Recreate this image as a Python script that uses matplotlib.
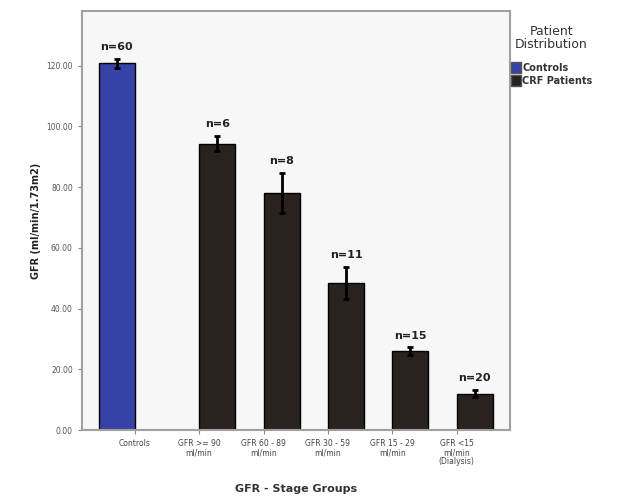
import numpy as np
import matplotlib.pyplot as plt

categories = ['Controls', 'GFR >= 90\nml/min', 'GFR 60 - 89\nml/min',
              'GFR 30 - 59\nml/min', 'GFR 15 - 29\nml/min', 'GFR <15\nml/min\n(Dialysis)']
groups = ['Controls', 'CRF Patients', 'CRF Patients', 'CRF Patients', 'CRF Patients', 'CRF Patients']
means = [120.8, 94.3, 78.2, 48.5, 26.0, 12.0]
err_lo = [1.5, 2.5, 6.6, 5.3, 1.3, 1.2]
err_hi = [1.5, 2.5, 6.6, 5.3, 1.3, 1.2]
n_labels = ['n=60', 'n=6', 'n=8', 'n=11', 'n=15', 'n=20']
colors = {'Controls': '#3742a6', 'CRF Patients': '#2a221f'}

fig = plt.figure(figsize=(6.2, 4.99), dpi=100)
ax = fig.add_axes([0.132, 0.138, 0.690, 0.840])
ax.set_facecolor('#f7f7f7')

off = 0.28
w = 0.56
x = np.arange(len(categories))
xpos = np.array([i - off if g == 'Controls' else i + off for i, g in enumerate(groups)])

for i in range(len(categories)):
    ax.bar(xpos[i], means[i], width=w, color=colors[groups[i]],
           edgecolor='black', linewidth=1.0, zorder=2)
    ax.errorbar(xpos[i], means[i], yerr=[[err_lo[i]], [err_hi[i]]], color='black',
                capsize=2.5, elinewidth=2, capthick=2, zorder=3)
    ax.text(xpos[i], means[i] + err_hi[i] + 2.2, n_labels[i], ha='center', va='bottom',
            fontsize=8, fontweight='bold', color='#222222')

ax.set_xlim(-0.82, 5.82)
ax.set_ylim(0, 138)
ax.set_yticks([0, 20, 40, 60, 80, 100, 120])
ax.set_yticklabels(['%.2f' % v for v in [0, 20, 40, 60, 80, 100, 120]], fontsize=5.5, color='#555555')
ax.set_xticks(x)
ax.set_xticklabels(categories, fontsize=5.5, color='#444444', linespacing=1.0)
ax.tick_params(axis='both', length=3, color='#888888')

for s in ax.spines.values():
    s.set_color('#a0a0a0')
    s.set_linewidth(1.5)

ax.set_ylabel('GFR (ml/min/1.73m2)', fontsize=7, fontweight='bold', color='#222222')
ax.set_xlabel('GFR - Stage Groups', fontsize=8, fontweight='bold', color='#333333', labelpad=13)

handles = [plt.Rectangle((0, 0), 1, 1, facecolor=colors[k], edgecolor='#555555') for k in colors]
leg = fig.legend(handles, list(colors.keys()), title='Patient\nDistribution',
                 loc='upper left', bbox_to_anchor=(0.824, 0.95), frameon=False,
                 fontsize=7, title_fontsize=9, handlelength=1.0, handleheight=1.3,
                 handletextpad=0.15, labelspacing=0.25, borderaxespad=0, borderpad=0,
                 alignment='center')
leg.get_title().set_color('#333333')
leg.get_title().set_multialignment('center')
leg.get_title().set_linespacing(1.0)
leg._legend_box.sep = 8
for t in leg.get_texts():
    t.set_fontweight('bold')
    t.set_color('#333333')

fig.savefig('out.png', dpi=100)
